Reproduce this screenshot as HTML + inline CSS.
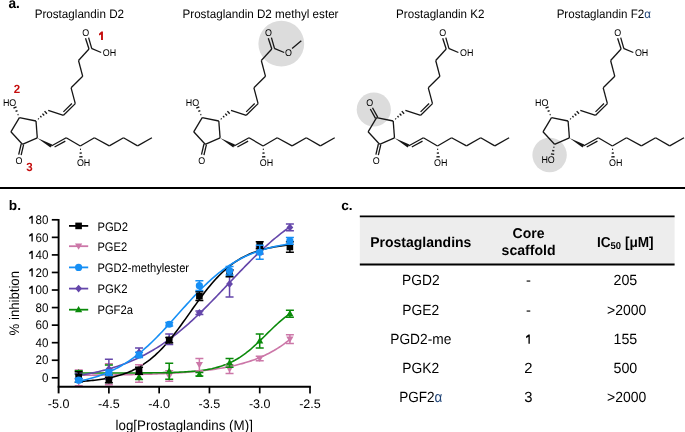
<!DOCTYPE html>
<html><head><meta charset="utf-8"><style>
html,body{margin:0;padding:0;background:#fff;}
svg{display:block;font-family:"Liberation Sans",sans-serif;text-rendering:geometricPrecision;will-change:transform;}
</style></head><body>
<svg width="685" height="432" viewBox="0 0 685 432">

<text x="8.4" y="7.6" font-size="14.6" font-weight="bold" fill="#000" textLength="11.4" lengthAdjust="spacingAndGlyphs">a.</text>
<text x="79.35" y="17.9" font-size="12.2" text-anchor="middle" textLength="89.4" lengthAdjust="spacingAndGlyphs">Prostaglandin D2</text>
<text x="260.5" y="17.9" font-size="12.2" text-anchor="middle" textLength="156" lengthAdjust="spacingAndGlyphs">Prostaglandin D2 methyl ester</text>
<text x="440.3" y="17.9" font-size="12.2" text-anchor="middle" textLength="88.4" lengthAdjust="spacingAndGlyphs">Prostaglandin K2</text>
<text x="603.75" y="17.9" font-size="12.2" text-anchor="middle" textLength="94.2" lengthAdjust="spacingAndGlyphs">Prostaglandin F2<tspan fill="#1e4275">α</tspan></text>
<circle cx="281.3" cy="43.7" r="22.9" fill="#dcdcdc"/>
<circle cx="373.8" cy="109.5" r="17.1" fill="#dcdcdc"/>
<circle cx="549.6" cy="155" r="17.2" fill="#dcdcdc"/>
<g><line x1="19.40" y1="117.70" x2="36.00" y2="121.00" stroke="#151515" stroke-width="1.3"/><line x1="36.00" y1="121.00" x2="37.30" y2="137.90" stroke="#151515" stroke-width="1.3"/><line x1="37.30" y1="137.90" x2="22.40" y2="144.30" stroke="#151515" stroke-width="1.3"/><line x1="22.40" y1="144.30" x2="10.90" y2="131.80" stroke="#151515" stroke-width="1.3"/><line x1="10.90" y1="131.80" x2="19.40" y2="117.70" stroke="#151515" stroke-width="1.3"/><line x1="38.77" y1="119.24" x2="38.11" y2="118.48" stroke="#151515" stroke-width="1.35"/><line x1="41.46" y1="117.38" x2="40.30" y2="116.06" stroke="#151515" stroke-width="1.35"/><line x1="44.19" y1="115.57" x2="42.45" y2="113.59" stroke="#151515" stroke-width="1.35"/><line x1="46.92" y1="113.76" x2="44.60" y2="111.12" stroke="#151515" stroke-width="1.35"/><line x1="48.20" y1="110.30" x2="63.50" y2="115.30" stroke="#151515" stroke-width="1.3"/><line x1="63.50" y1="115.30" x2="75.30" y2="103.60" stroke="#151515" stroke-width="1.3"/><line x1="63.39" y1="111.89" x2="71.89" y2="103.46" stroke="#151515" stroke-width="1.3"/><line x1="75.30" y1="103.60" x2="71.10" y2="87.80" stroke="#151515" stroke-width="1.3"/><line x1="71.10" y1="87.80" x2="82.70" y2="76.30" stroke="#151515" stroke-width="1.3"/><line x1="82.70" y1="76.30" x2="78.50" y2="60.50" stroke="#151515" stroke-width="1.3"/><line x1="78.50" y1="60.50" x2="89.00" y2="49.00" stroke="#151515" stroke-width="1.3"/><polygon points="37.30,137.90 50.45,147.47 52.15,144.53" fill="#151515"/><line x1="51.30" y1="146.00" x2="66.20" y2="137.80" stroke="#151515" stroke-width="1.3"/><line x1="54.59" y1="147.04" x2="65.32" y2="141.14" stroke="#151515" stroke-width="1.3"/><line x1="66.20" y1="137.80" x2="80.30" y2="146.00" stroke="#151515" stroke-width="1.3"/><line x1="80.30" y1="146.00" x2="94.40" y2="137.80" stroke="#151515" stroke-width="1.3"/><line x1="94.40" y1="137.80" x2="109.30" y2="145.90" stroke="#151515" stroke-width="1.3"/><line x1="109.30" y1="145.90" x2="123.50" y2="137.80" stroke="#151515" stroke-width="1.3"/><line x1="123.50" y1="137.80" x2="137.60" y2="145.90" stroke="#151515" stroke-width="1.3"/><line x1="137.60" y1="145.90" x2="151.90" y2="137.80" stroke="#151515" stroke-width="1.3"/><line x1="79.96" y1="149.33" x2="80.97" y2="149.28" stroke="#151515" stroke-width="1.35"/><line x1="79.58" y1="153.13" x2="81.74" y2="153.03" stroke="#151515" stroke-width="1.35"/><line x1="79.20" y1="156.94" x2="82.51" y2="156.77" stroke="#151515" stroke-width="1.35"/><text transform="translate(83.60,166.07) scale(0.2275,0.25)" font-size="39.20" font-weight="normal" fill="#000" text-anchor="middle">OH</text><line x1="18.52" y1="114.39" x2="17.59" y2="114.79" stroke="#151515" stroke-width="1.35"/><line x1="17.51" y1="110.61" x2="15.53" y2="111.47" stroke="#151515" stroke-width="1.35"/><line x1="16.50" y1="106.83" x2="13.46" y2="108.15" stroke="#151515" stroke-width="1.35"/><text transform="translate(9.60,105.97) scale(0.2275,0.25)" font-size="39.20" font-weight="normal" fill="#000" text-anchor="middle">HO</text><line x1="21.18" y1="144.01" x2="18.68" y2="154.61" stroke="#151515" stroke-width="1.3"/><line x1="23.62" y1="144.59" x2="21.12" y2="155.19" stroke="#151515" stroke-width="1.3"/><text transform="translate(19.00,163.77) scale(0.2275,0.25)" font-size="39.20" font-weight="normal" fill="#000" text-anchor="middle">O</text><line x1="89.00" y1="49.00" x2="85.50" y2="38.20" stroke="#151515" stroke-width="1.3"/><line x1="91.70" y1="48.40" x2="88.60" y2="37.60" stroke="#151515" stroke-width="1.3"/><line x1="91.40" y1="48.40" x2="101.20" y2="52.50" stroke="#151515" stroke-width="1.3"/><text transform="translate(85.60,35.87) scale(0.2275,0.25)" font-size="39.20" font-weight="normal" fill="#000" text-anchor="middle">O</text><text transform="translate(109.50,56.07) scale(0.2275,0.25)" font-size="39.20" font-weight="normal" fill="#000" text-anchor="middle">OH</text><polygon points="102.95,31.6 102.95,39.9 101.05,39.9 101.05,34.5 99.0,35.5 99.0,33.8 101.4,31.6" fill="#c50d0d"/><text transform="translate(16.90,93.36) scale(0.2450,0.25)" font-size="47.20" font-weight="bold" fill="#c50d0d" text-anchor="middle">2</text><text transform="translate(29.50,170.56) scale(0.2450,0.25)" font-size="47.20" font-weight="bold" fill="#c50d0d" text-anchor="middle">3</text></g>
<g transform="translate(182.8,0)"><line x1="19.40" y1="117.70" x2="36.00" y2="121.00" stroke="#151515" stroke-width="1.3"/><line x1="36.00" y1="121.00" x2="37.30" y2="137.90" stroke="#151515" stroke-width="1.3"/><line x1="37.30" y1="137.90" x2="22.40" y2="144.30" stroke="#151515" stroke-width="1.3"/><line x1="22.40" y1="144.30" x2="10.90" y2="131.80" stroke="#151515" stroke-width="1.3"/><line x1="10.90" y1="131.80" x2="19.40" y2="117.70" stroke="#151515" stroke-width="1.3"/><line x1="38.77" y1="119.24" x2="38.11" y2="118.48" stroke="#151515" stroke-width="1.35"/><line x1="41.46" y1="117.38" x2="40.30" y2="116.06" stroke="#151515" stroke-width="1.35"/><line x1="44.19" y1="115.57" x2="42.45" y2="113.59" stroke="#151515" stroke-width="1.35"/><line x1="46.92" y1="113.76" x2="44.60" y2="111.12" stroke="#151515" stroke-width="1.35"/><line x1="48.20" y1="110.30" x2="63.50" y2="115.30" stroke="#151515" stroke-width="1.3"/><line x1="63.50" y1="115.30" x2="75.30" y2="103.60" stroke="#151515" stroke-width="1.3"/><line x1="63.39" y1="111.89" x2="71.89" y2="103.46" stroke="#151515" stroke-width="1.3"/><line x1="75.30" y1="103.60" x2="71.10" y2="87.80" stroke="#151515" stroke-width="1.3"/><line x1="71.10" y1="87.80" x2="82.70" y2="76.30" stroke="#151515" stroke-width="1.3"/><line x1="82.70" y1="76.30" x2="78.50" y2="60.50" stroke="#151515" stroke-width="1.3"/><line x1="78.50" y1="60.50" x2="89.00" y2="49.00" stroke="#151515" stroke-width="1.3"/><polygon points="37.30,137.90 50.45,147.47 52.15,144.53" fill="#151515"/><line x1="51.30" y1="146.00" x2="66.20" y2="137.80" stroke="#151515" stroke-width="1.3"/><line x1="54.59" y1="147.04" x2="65.32" y2="141.14" stroke="#151515" stroke-width="1.3"/><line x1="66.20" y1="137.80" x2="80.30" y2="146.00" stroke="#151515" stroke-width="1.3"/><line x1="80.30" y1="146.00" x2="94.40" y2="137.80" stroke="#151515" stroke-width="1.3"/><line x1="94.40" y1="137.80" x2="109.30" y2="145.90" stroke="#151515" stroke-width="1.3"/><line x1="109.30" y1="145.90" x2="123.50" y2="137.80" stroke="#151515" stroke-width="1.3"/><line x1="123.50" y1="137.80" x2="137.60" y2="145.90" stroke="#151515" stroke-width="1.3"/><line x1="137.60" y1="145.90" x2="151.90" y2="137.80" stroke="#151515" stroke-width="1.3"/><line x1="79.96" y1="149.33" x2="80.97" y2="149.28" stroke="#151515" stroke-width="1.35"/><line x1="79.58" y1="153.13" x2="81.74" y2="153.03" stroke="#151515" stroke-width="1.35"/><line x1="79.20" y1="156.94" x2="82.51" y2="156.77" stroke="#151515" stroke-width="1.35"/><text transform="translate(83.60,166.07) scale(0.2275,0.25)" font-size="39.20" font-weight="normal" fill="#000" text-anchor="middle">OH</text><line x1="18.52" y1="114.39" x2="17.59" y2="114.79" stroke="#151515" stroke-width="1.35"/><line x1="17.51" y1="110.61" x2="15.53" y2="111.47" stroke="#151515" stroke-width="1.35"/><line x1="16.50" y1="106.83" x2="13.46" y2="108.15" stroke="#151515" stroke-width="1.35"/><text transform="translate(9.60,105.97) scale(0.2275,0.25)" font-size="39.20" font-weight="normal" fill="#000" text-anchor="middle">HO</text><line x1="21.18" y1="144.01" x2="18.68" y2="154.61" stroke="#151515" stroke-width="1.3"/><line x1="23.62" y1="144.59" x2="21.12" y2="155.19" stroke="#151515" stroke-width="1.3"/><text transform="translate(19.00,163.77) scale(0.2275,0.25)" font-size="39.20" font-weight="normal" fill="#000" text-anchor="middle">O</text><line x1="89.00" y1="49.00" x2="85.50" y2="38.20" stroke="#151515" stroke-width="1.3"/><line x1="91.70" y1="48.40" x2="88.60" y2="37.60" stroke="#151515" stroke-width="1.3"/><line x1="91.40" y1="48.40" x2="101.40" y2="52.50" stroke="#151515" stroke-width="1.3"/><text transform="translate(85.60,35.87) scale(0.2275,0.25)" font-size="39.20" font-weight="normal" fill="#000" text-anchor="middle">O</text><text transform="translate(105.70,55.77) scale(0.2275,0.25)" font-size="39.20" font-weight="normal" fill="#000" text-anchor="middle">O</text><line x1="109.30" y1="48.60" x2="118.50" y2="40.70" stroke="#151515" stroke-width="1.3"/></g>
<g transform="translate(357.2,0)"><line x1="19.40" y1="117.70" x2="36.00" y2="121.00" stroke="#151515" stroke-width="1.3"/><line x1="36.00" y1="121.00" x2="37.30" y2="137.90" stroke="#151515" stroke-width="1.3"/><line x1="37.30" y1="137.90" x2="22.40" y2="144.30" stroke="#151515" stroke-width="1.3"/><line x1="22.40" y1="144.30" x2="10.90" y2="131.80" stroke="#151515" stroke-width="1.3"/><line x1="10.90" y1="131.80" x2="19.40" y2="117.70" stroke="#151515" stroke-width="1.3"/><line x1="38.77" y1="119.24" x2="38.11" y2="118.48" stroke="#151515" stroke-width="1.35"/><line x1="41.46" y1="117.38" x2="40.30" y2="116.06" stroke="#151515" stroke-width="1.35"/><line x1="44.19" y1="115.57" x2="42.45" y2="113.59" stroke="#151515" stroke-width="1.35"/><line x1="46.92" y1="113.76" x2="44.60" y2="111.12" stroke="#151515" stroke-width="1.35"/><line x1="48.20" y1="110.30" x2="63.50" y2="115.30" stroke="#151515" stroke-width="1.3"/><line x1="63.50" y1="115.30" x2="75.30" y2="103.60" stroke="#151515" stroke-width="1.3"/><line x1="63.39" y1="111.89" x2="71.89" y2="103.46" stroke="#151515" stroke-width="1.3"/><line x1="75.30" y1="103.60" x2="71.10" y2="87.80" stroke="#151515" stroke-width="1.3"/><line x1="71.10" y1="87.80" x2="82.70" y2="76.30" stroke="#151515" stroke-width="1.3"/><line x1="82.70" y1="76.30" x2="78.50" y2="60.50" stroke="#151515" stroke-width="1.3"/><line x1="78.50" y1="60.50" x2="89.00" y2="49.00" stroke="#151515" stroke-width="1.3"/><polygon points="37.30,137.90 50.45,147.47 52.15,144.53" fill="#151515"/><line x1="51.30" y1="146.00" x2="66.20" y2="137.80" stroke="#151515" stroke-width="1.3"/><line x1="54.59" y1="147.04" x2="65.32" y2="141.14" stroke="#151515" stroke-width="1.3"/><line x1="66.20" y1="137.80" x2="80.30" y2="146.00" stroke="#151515" stroke-width="1.3"/><line x1="80.30" y1="146.00" x2="94.40" y2="137.80" stroke="#151515" stroke-width="1.3"/><line x1="94.40" y1="137.80" x2="109.30" y2="145.90" stroke="#151515" stroke-width="1.3"/><line x1="109.30" y1="145.90" x2="123.50" y2="137.80" stroke="#151515" stroke-width="1.3"/><line x1="123.50" y1="137.80" x2="137.60" y2="145.90" stroke="#151515" stroke-width="1.3"/><line x1="137.60" y1="145.90" x2="151.90" y2="137.80" stroke="#151515" stroke-width="1.3"/><line x1="79.96" y1="149.33" x2="80.97" y2="149.28" stroke="#151515" stroke-width="1.35"/><line x1="79.58" y1="153.13" x2="81.74" y2="153.03" stroke="#151515" stroke-width="1.35"/><line x1="79.20" y1="156.94" x2="82.51" y2="156.77" stroke="#151515" stroke-width="1.35"/><text transform="translate(83.60,166.07) scale(0.2275,0.25)" font-size="39.20" font-weight="normal" fill="#000" text-anchor="middle">OH</text><line x1="20.49" y1="117.09" x2="15.29" y2="107.79" stroke="#151515" stroke-width="1.3"/><line x1="18.31" y1="118.31" x2="13.11" y2="109.01" stroke="#151515" stroke-width="1.3"/><text transform="translate(12.60,106.17) scale(0.2275,0.25)" font-size="39.20" font-weight="normal" fill="#000" text-anchor="middle">O</text><line x1="21.18" y1="144.01" x2="18.68" y2="154.61" stroke="#151515" stroke-width="1.3"/><line x1="23.62" y1="144.59" x2="21.12" y2="155.19" stroke="#151515" stroke-width="1.3"/><text transform="translate(19.00,163.77) scale(0.2275,0.25)" font-size="39.20" font-weight="normal" fill="#000" text-anchor="middle">O</text><line x1="89.00" y1="49.00" x2="85.50" y2="38.20" stroke="#151515" stroke-width="1.3"/><line x1="91.70" y1="48.40" x2="88.60" y2="37.60" stroke="#151515" stroke-width="1.3"/><line x1="91.40" y1="48.40" x2="101.20" y2="52.50" stroke="#151515" stroke-width="1.3"/><text transform="translate(85.60,35.87) scale(0.2275,0.25)" font-size="39.20" font-weight="normal" fill="#000" text-anchor="middle">O</text><text transform="translate(109.50,56.07) scale(0.2275,0.25)" font-size="39.20" font-weight="normal" fill="#000" text-anchor="middle">OH</text></g>
<g transform="translate(532.1,0)"><line x1="19.40" y1="117.70" x2="36.00" y2="121.00" stroke="#151515" stroke-width="1.3"/><line x1="36.00" y1="121.00" x2="37.30" y2="137.90" stroke="#151515" stroke-width="1.3"/><line x1="37.30" y1="137.90" x2="22.40" y2="144.30" stroke="#151515" stroke-width="1.3"/><line x1="22.40" y1="144.30" x2="10.90" y2="131.80" stroke="#151515" stroke-width="1.3"/><line x1="10.90" y1="131.80" x2="19.40" y2="117.70" stroke="#151515" stroke-width="1.3"/><line x1="38.77" y1="119.24" x2="38.11" y2="118.48" stroke="#151515" stroke-width="1.35"/><line x1="41.46" y1="117.38" x2="40.30" y2="116.06" stroke="#151515" stroke-width="1.35"/><line x1="44.19" y1="115.57" x2="42.45" y2="113.59" stroke="#151515" stroke-width="1.35"/><line x1="46.92" y1="113.76" x2="44.60" y2="111.12" stroke="#151515" stroke-width="1.35"/><line x1="48.20" y1="110.30" x2="63.50" y2="115.30" stroke="#151515" stroke-width="1.3"/><line x1="63.50" y1="115.30" x2="75.30" y2="103.60" stroke="#151515" stroke-width="1.3"/><line x1="63.39" y1="111.89" x2="71.89" y2="103.46" stroke="#151515" stroke-width="1.3"/><line x1="75.30" y1="103.60" x2="71.10" y2="87.80" stroke="#151515" stroke-width="1.3"/><line x1="71.10" y1="87.80" x2="82.70" y2="76.30" stroke="#151515" stroke-width="1.3"/><line x1="82.70" y1="76.30" x2="78.50" y2="60.50" stroke="#151515" stroke-width="1.3"/><line x1="78.50" y1="60.50" x2="89.00" y2="49.00" stroke="#151515" stroke-width="1.3"/><polygon points="37.30,137.90 50.45,147.47 52.15,144.53" fill="#151515"/><line x1="51.30" y1="146.00" x2="66.20" y2="137.80" stroke="#151515" stroke-width="1.3"/><line x1="54.59" y1="147.04" x2="65.32" y2="141.14" stroke="#151515" stroke-width="1.3"/><line x1="66.20" y1="137.80" x2="80.30" y2="146.00" stroke="#151515" stroke-width="1.3"/><line x1="80.30" y1="146.00" x2="94.40" y2="137.80" stroke="#151515" stroke-width="1.3"/><line x1="94.40" y1="137.80" x2="109.30" y2="145.90" stroke="#151515" stroke-width="1.3"/><line x1="109.30" y1="145.90" x2="123.50" y2="137.80" stroke="#151515" stroke-width="1.3"/><line x1="123.50" y1="137.80" x2="137.60" y2="145.90" stroke="#151515" stroke-width="1.3"/><line x1="137.60" y1="145.90" x2="151.90" y2="137.80" stroke="#151515" stroke-width="1.3"/><line x1="79.96" y1="149.33" x2="80.97" y2="149.28" stroke="#151515" stroke-width="1.35"/><line x1="79.58" y1="153.13" x2="81.74" y2="153.03" stroke="#151515" stroke-width="1.35"/><line x1="79.20" y1="156.94" x2="82.51" y2="156.77" stroke="#151515" stroke-width="1.35"/><text transform="translate(83.60,166.07) scale(0.2275,0.25)" font-size="39.20" font-weight="normal" fill="#000" text-anchor="middle">OH</text><line x1="18.52" y1="114.39" x2="17.59" y2="114.79" stroke="#151515" stroke-width="1.35"/><line x1="17.51" y1="110.61" x2="15.53" y2="111.47" stroke="#151515" stroke-width="1.35"/><line x1="16.50" y1="106.83" x2="13.46" y2="108.15" stroke="#151515" stroke-width="1.35"/><text transform="translate(9.60,105.97) scale(0.2275,0.25)" font-size="39.20" font-weight="normal" fill="#000" text-anchor="middle">HO</text><line x1="21.32" y1="147.20" x2="22.31" y2="147.39" stroke="#151515" stroke-width="1.35"/><line x1="20.08" y1="150.51" x2="22.20" y2="150.93" stroke="#151515" stroke-width="1.35"/><line x1="18.84" y1="153.83" x2="22.09" y2="154.46" stroke="#151515" stroke-width="1.35"/><text transform="translate(16.00,163.27) scale(0.2275,0.25)" font-size="39.20" font-weight="normal" fill="#000" text-anchor="middle">HO</text><line x1="89.00" y1="49.00" x2="85.50" y2="38.20" stroke="#151515" stroke-width="1.3"/><line x1="91.70" y1="48.40" x2="88.60" y2="37.60" stroke="#151515" stroke-width="1.3"/><line x1="91.40" y1="48.40" x2="101.20" y2="52.50" stroke="#151515" stroke-width="1.3"/><text transform="translate(85.60,35.87) scale(0.2275,0.25)" font-size="39.20" font-weight="normal" fill="#000" text-anchor="middle">O</text><text transform="translate(109.50,56.07) scale(0.2275,0.25)" font-size="39.20" font-weight="normal" fill="#000" text-anchor="middle">OH</text></g>
<rect x="0" y="187" width="685" height="2" fill="#000"/>
<polyline points="78.71,375.27 80.49,375.26 82.26,375.25 84.04,375.24 85.81,375.22 87.58,375.21 89.36,375.20 91.13,375.18 92.91,375.17 94.68,375.15 96.46,375.13 98.23,375.12 100.01,375.10 101.78,375.08 103.56,375.06 105.33,375.04 107.11,375.02 108.88,375.00 110.65,374.97 112.43,374.95 114.20,374.93 115.98,374.90 117.75,374.87 119.53,374.84 121.30,374.81 123.08,374.78 124.85,374.75 126.63,374.72 128.40,374.68 130.18,374.65 131.95,374.61 133.72,374.57 135.50,374.53 137.27,374.49 139.05,374.44 140.82,374.40 142.60,374.35 144.37,374.30 146.15,374.25 147.92,374.19 149.70,374.14 151.47,374.08 153.24,374.02 155.02,373.95 156.79,373.88 158.57,373.81 160.34,373.74 162.12,373.67 163.89,373.59 165.67,373.51 167.44,373.42 169.22,373.33 170.99,373.24 172.77,373.14 174.54,373.04 176.31,372.94 178.09,372.83 179.86,372.71 181.64,372.59 183.41,372.47 185.19,372.34 186.96,372.21 188.74,372.07 190.51,371.92 192.29,371.77 194.06,371.61 195.83,371.44 197.61,371.27 199.38,371.09 201.16,370.91 202.93,370.71 204.71,370.51 206.48,370.30 208.26,370.08 210.03,369.85 211.81,369.61 213.58,369.36 215.36,369.10 217.13,368.83 218.90,368.55 220.68,368.26 222.45,367.95 224.23,367.63 226.00,367.30 227.78,366.95 229.55,366.59 231.33,366.22 233.10,365.82 234.88,365.42 236.65,364.99 238.42,364.55 240.20,364.09 241.97,363.61 243.75,363.11 245.52,362.58 247.30,362.04 249.07,361.47 250.85,360.88 252.62,360.27 254.40,359.63 256.17,358.96 257.95,358.26 259.72,357.54 261.49,356.78 263.27,355.99 265.04,355.17 266.82,354.32 268.59,353.43 270.37,352.50 272.14,351.53 273.92,350.53 275.69,349.48 277.47,348.38 279.24,347.24 281.02,346.05 282.79,344.82 284.56,343.53 286.34,342.18 288.11,340.78 289.89,339.33" fill="none" stroke="#cc77a8" stroke-width="1.6"/>
<polyline points="78.71,373.03 80.49,373.03 82.26,373.03 84.04,373.03 85.81,373.03 87.58,373.03 89.36,373.03 91.13,373.03 92.91,373.03 94.68,373.03 96.46,373.03 98.23,373.03 100.01,373.02 101.78,373.02 103.56,373.02 105.33,373.02 107.11,373.02 108.88,373.02 110.65,373.01 112.43,373.01 114.20,373.01 115.98,373.01 117.75,373.00 119.53,373.00 121.30,373.00 123.08,372.99 124.85,372.99 126.63,372.98 128.40,372.98 130.18,372.97 131.95,372.96 133.72,372.96 135.50,372.95 137.27,372.94 139.05,372.93 140.82,372.92 142.60,372.91 144.37,372.90 146.15,372.88 147.92,372.87 149.70,372.85 151.47,372.83 153.24,372.81 155.02,372.79 156.79,372.77 158.57,372.74 160.34,372.72 162.12,372.68 163.89,372.65 165.67,372.61 167.44,372.57 169.22,372.53 170.99,372.48 172.77,372.43 174.54,372.37 176.31,372.30 178.09,372.23 179.86,372.16 181.64,372.07 183.41,371.98 185.19,371.88 186.96,371.77 188.74,371.66 190.51,371.52 192.29,371.38 194.06,371.23 195.83,371.06 197.61,370.87 199.38,370.67 201.16,370.45 202.93,370.21 204.71,369.95 206.48,369.67 208.26,369.36 210.03,369.02 211.81,368.66 213.58,368.26 215.36,367.84 217.13,367.37 218.90,366.87 220.68,366.33 222.45,365.75 224.23,365.12 226.00,364.45 227.78,363.72 229.55,362.94 231.33,362.11 233.10,361.22 234.88,360.28 236.65,359.27 238.42,358.20 240.20,357.07 241.97,355.88 243.75,354.63 245.52,353.32 247.30,351.94 249.07,350.51 250.85,349.03 252.62,347.49 254.40,345.90 256.17,344.28 257.95,342.61 259.72,340.91 261.49,339.19 263.27,337.45 265.04,335.70 266.82,333.94 268.59,332.19 270.37,330.45 272.14,328.73 273.92,327.03 275.69,325.36 277.47,323.73 279.24,322.14 281.02,320.60 282.79,319.11 284.56,317.68 286.34,316.30 288.11,314.98 289.89,313.73" fill="none" stroke="#0a8a0a" stroke-width="1.6"/>
<polyline points="78.71,375.51 80.49,375.22 82.26,374.92 84.04,374.61 85.81,374.28 87.58,373.95 89.36,373.61 91.13,373.25 92.91,372.88 94.68,372.50 96.46,372.10 98.23,371.70 100.01,371.27 101.78,370.84 103.56,370.38 105.33,369.92 107.11,369.44 108.88,368.94 110.65,368.42 112.43,367.89 114.20,367.34 115.98,366.78 117.75,366.19 119.53,365.59 121.30,364.97 123.08,364.32 124.85,363.66 126.63,362.98 128.40,362.28 130.18,361.55 131.95,360.80 133.72,360.04 135.50,359.24 137.27,358.43 139.05,357.59 140.82,356.73 142.60,355.84 144.37,354.93 146.15,354.00 147.92,353.04 149.70,352.05 151.47,351.04 153.24,350.00 155.02,348.93 156.79,347.84 158.57,346.72 160.34,345.58 162.12,344.41 163.89,343.20 165.67,341.98 167.44,340.72 169.22,339.44 170.99,338.13 172.77,336.79 174.54,335.43 176.31,334.03 178.09,332.62 179.86,331.17 181.64,329.70 183.41,328.20 185.19,326.68 186.96,325.13 188.74,323.56 190.51,321.97 192.29,320.35 194.06,318.71 195.83,317.04 197.61,315.36 199.38,313.66 201.16,311.93 202.93,310.19 204.71,308.43 206.48,306.66 208.26,304.87 210.03,303.06 211.81,301.24 213.58,299.41 215.36,297.57 217.13,295.72 218.90,293.86 220.68,292.00 222.45,290.13 224.23,288.25 226.00,286.38 227.78,284.50 229.55,282.62 231.33,280.74 233.10,278.87 234.88,277.00 236.65,275.13 238.42,273.27 240.20,271.42 241.97,269.58 243.75,267.74 245.52,265.92 247.30,264.12 249.07,262.32 250.85,260.54 252.62,258.78 254.40,257.04 256.17,255.31 257.95,253.60 259.72,251.91 261.49,250.24 263.27,248.60 265.04,246.98 266.82,245.37 268.59,243.80 270.37,242.25 272.14,240.72 273.92,239.22 275.69,237.74 277.47,236.29 279.24,234.86 281.02,233.47 282.79,232.10 284.56,230.75 286.34,229.44 288.11,228.15 289.89,226.89" fill="none" stroke="#6446aa" stroke-width="1.6"/>
<polyline points="78.71,381.59 80.49,381.47 82.26,381.35 84.04,381.21 85.81,381.07 87.58,380.91 89.36,380.75 91.13,380.57 92.91,380.38 94.68,380.18 96.46,379.96 98.23,379.73 100.01,379.48 101.78,379.22 103.56,378.93 105.33,378.63 107.11,378.30 108.88,377.95 110.65,377.58 112.43,377.19 114.20,376.76 115.98,376.31 117.75,375.83 119.53,375.32 121.30,374.77 123.08,374.19 124.85,373.57 126.63,372.91 128.40,372.21 130.18,371.46 131.95,370.67 133.72,369.83 135.50,368.95 137.27,368.01 139.05,367.01 140.82,365.96 142.60,364.86 144.37,363.69 146.15,362.46 147.92,361.17 149.70,359.81 151.47,358.38 153.24,356.89 155.02,355.33 156.79,353.70 158.57,352.01 160.34,350.24 162.12,348.41 163.89,346.50 165.67,344.54 167.44,342.50 169.22,340.41 170.99,338.26 172.77,336.05 174.54,333.78 176.31,331.47 178.09,329.12 179.86,326.72 181.64,324.29 183.41,321.83 185.19,319.35 186.96,316.86 188.74,314.35 190.51,311.84 192.29,309.33 194.06,306.83 195.83,304.35 197.61,301.88 199.38,299.45 201.16,297.04 202.93,294.68 204.71,292.35 206.48,290.08 208.26,287.86 210.03,285.69 211.81,283.58 213.58,281.53 215.36,279.55 217.13,277.63 218.90,275.78 220.68,273.99 222.45,272.28 224.23,270.64 226.00,269.06 227.78,267.55 229.55,266.11 231.33,264.74 233.10,263.43 234.88,262.18 236.65,261.00 238.42,259.88 240.20,258.81 241.97,257.81 243.75,256.85 245.52,255.95 247.30,255.10 249.07,254.30 250.85,253.55 252.62,252.84 254.40,252.17 256.17,251.54 257.95,250.95 259.72,250.39 261.49,249.87 263.27,249.38 265.04,248.92 266.82,248.49 268.59,248.09 270.37,247.71 272.14,247.36 273.92,247.03 275.69,246.72 277.47,246.43 279.24,246.16 281.02,245.90 282.79,245.67 284.56,245.45 286.34,245.24 288.11,245.05 289.89,244.87" fill="none" stroke="#000000" stroke-width="1.6"/>
<polyline points="78.71,381.29 80.49,380.92 82.26,380.54 84.04,380.13 85.81,379.71 87.58,379.27 89.36,378.80 91.13,378.31 92.91,377.80 94.68,377.26 96.46,376.70 98.23,376.12 100.01,375.50 101.78,374.86 103.56,374.19 105.33,373.50 107.11,372.77 108.88,372.00 110.65,371.21 112.43,370.38 114.20,369.52 115.98,368.62 117.75,367.69 119.53,366.72 121.30,365.71 123.08,364.67 124.85,363.58 126.63,362.46 128.40,361.30 130.18,360.09 131.95,358.85 133.72,357.56 135.50,356.23 137.27,354.86 139.05,353.45 140.82,352.00 142.60,350.51 144.37,348.98 146.15,347.41 147.92,345.81 149.70,344.16 151.47,342.48 153.24,340.76 155.02,339.01 156.79,337.23 158.57,335.41 160.34,333.57 162.12,331.70 163.89,329.81 165.67,327.89 167.44,325.96 169.22,324.01 170.99,322.04 172.77,320.06 174.54,318.07 176.31,316.08 178.09,314.08 179.86,312.08 181.64,310.08 183.41,308.09 185.19,306.11 186.96,304.13 188.74,302.17 190.51,300.23 192.29,298.30 194.06,296.40 195.83,294.52 197.61,292.66 199.38,290.83 201.16,289.03 202.93,287.27 204.71,285.53 206.48,283.83 208.26,282.17 210.03,280.54 211.81,278.95 213.58,277.40 215.36,275.89 217.13,274.41 218.90,272.98 220.68,271.59 222.45,270.25 224.23,268.94 226.00,267.67 227.78,266.45 229.55,265.26 231.33,264.12 233.10,263.01 234.88,261.95 236.65,260.92 238.42,259.93 240.20,258.98 241.97,258.06 243.75,257.18 245.52,256.34 247.30,255.53 249.07,254.75 250.85,254.00 252.62,253.29 254.40,252.60 256.17,251.95 257.95,251.32 259.72,250.72 261.49,250.15 263.27,249.60 265.04,249.07 266.82,248.57 268.59,248.10 270.37,247.64 272.14,247.21 273.92,246.79 275.69,246.40 277.47,246.02 279.24,245.66 281.02,245.32 282.79,244.99 284.56,244.68 286.34,244.39 288.11,244.11 289.89,243.84" fill="none" stroke="#168ff5" stroke-width="1.6"/>
<path d="M74.71,369.90H82.71M78.71,369.90V385.70M74.71,385.70H82.71" stroke="#cc77a8" stroke-width="1.5" fill="none"/>
<polygon points="78.71,381.40 82.31,375.20 75.11,375.20" fill="#cc77a8"/>
<path d="M104.88,363.76H112.88M108.88,363.76V384.82M104.88,384.82H112.88" stroke="#cc77a8" stroke-width="1.5" fill="none"/>
<polygon points="108.88,377.89 112.48,371.69 105.28,371.69" fill="#cc77a8"/>
<path d="M135.05,364.63H143.05M139.05,364.63V382.19M135.05,382.19H143.05" stroke="#cc77a8" stroke-width="1.5" fill="none"/>
<polygon points="139.05,377.01 142.65,370.81 135.45,370.81" fill="#cc77a8"/>
<path d="M165.22,370.78H173.22M169.22,370.78V381.31M165.22,381.31H173.22" stroke="#cc77a8" stroke-width="1.5" fill="none"/>
<polygon points="169.22,379.64 172.82,373.44 165.62,373.44" fill="#cc77a8"/>
<path d="M195.38,358.49H203.38M199.38,358.49V370.78M195.38,370.78H203.38" stroke="#cc77a8" stroke-width="1.5" fill="none"/>
<polygon points="199.38,368.23 202.98,362.03 195.78,362.03" fill="#cc77a8"/>
<path d="M225.55,364.63H233.55M229.55,364.63V373.41M225.55,373.41H233.55" stroke="#cc77a8" stroke-width="1.5" fill="none"/>
<polygon points="229.55,372.62 233.15,366.42 225.95,366.42" fill="#cc77a8"/>
<path d="M255.72,356.29H263.72M259.72,356.29V360.68M255.72,360.68H263.72" stroke="#cc77a8" stroke-width="1.5" fill="none"/>
<polygon points="259.72,362.09 263.32,355.89 256.12,355.89" fill="#cc77a8"/>
<path d="M285.89,334.79H293.89M289.89,334.79V343.57M285.89,343.57H293.89" stroke="#cc77a8" stroke-width="1.5" fill="none"/>
<polygon points="289.89,342.78 293.49,336.58 286.29,336.58" fill="#cc77a8"/>
<path d="M74.71,370.78H82.71M78.71,370.78V374.29M74.71,374.29H82.71" stroke="#0a8a0a" stroke-width="1.5" fill="none"/>
<polygon points="78.71,368.93 82.31,375.13 75.11,375.13" fill="#0a8a0a"/>
<path d="M104.88,365.07H112.88M108.88,365.07V374.73M104.88,374.73H112.88" stroke="#0a8a0a" stroke-width="1.5" fill="none"/>
<polygon points="108.88,366.30 112.48,372.50 105.28,372.50" fill="#0a8a0a"/>
<path d="M135.05,374.29H143.05M139.05,374.29V379.56M135.05,379.56H143.05" stroke="#0a8a0a" stroke-width="1.5" fill="none"/>
<polygon points="139.05,373.32 142.65,379.52 135.45,379.52" fill="#0a8a0a"/>
<path d="M165.22,363.14H173.22M169.22,363.14V379.29M165.22,379.29H173.22" stroke="#0a8a0a" stroke-width="1.5" fill="none"/>
<polygon points="169.22,367.62 172.82,373.82 165.62,373.82" fill="#0a8a0a"/>
<path d="M195.38,372.53H203.38M199.38,372.53V376.04M195.38,376.04H203.38" stroke="#0a8a0a" stroke-width="1.5" fill="none"/>
<polygon points="199.38,370.69 202.98,376.89 195.78,376.89" fill="#0a8a0a"/>
<path d="M225.55,358.49H233.55M229.55,358.49V367.27M225.55,367.27H233.55" stroke="#0a8a0a" stroke-width="1.5" fill="none"/>
<polygon points="229.55,359.28 233.15,365.48 225.95,365.48" fill="#0a8a0a"/>
<path d="M255.72,333.91H263.72M259.72,333.91V347.95M255.72,347.95H263.72" stroke="#0a8a0a" stroke-width="1.5" fill="none"/>
<polygon points="259.72,337.33 263.32,343.53 256.12,343.53" fill="#0a8a0a"/>
<path d="M285.89,310.21H293.89M289.89,310.21V317.23M285.89,317.23H293.89" stroke="#0a8a0a" stroke-width="1.5" fill="none"/>
<polygon points="289.89,310.12 293.49,316.32 286.29,316.32" fill="#0a8a0a"/>
<path d="M74.71,373.41H82.71M78.71,373.41V378.68M74.71,378.68H82.71" stroke="#6446aa" stroke-width="1.5" fill="none"/>
<polygon points="78.71,372.14 82.11,376.04 78.71,379.94 75.31,376.04" fill="#6446aa"/>
<path d="M104.88,359.37H112.88M108.88,359.37V378.68M104.88,378.68H112.88" stroke="#6446aa" stroke-width="1.5" fill="none"/>
<polygon points="108.88,365.12 112.28,369.02 108.88,372.92 105.48,369.02" fill="#6446aa"/>
<path d="M135.05,347.95H143.05M139.05,347.95V356.73M135.05,356.73H143.05" stroke="#6446aa" stroke-width="1.5" fill="none"/>
<polygon points="139.05,348.44 142.45,352.34 139.05,356.24 135.65,352.34" fill="#6446aa"/>
<path d="M165.22,333.91H173.22M169.22,333.91V344.44M165.22,344.44H173.22" stroke="#6446aa" stroke-width="1.5" fill="none"/>
<polygon points="169.22,335.28 172.62,339.18 169.22,343.08 165.82,339.18" fill="#6446aa"/>
<path d="M195.38,311.09H203.38M199.38,311.09V314.60M195.38,314.60H203.38" stroke="#6446aa" stroke-width="1.5" fill="none"/>
<polygon points="199.38,308.94 202.78,312.84 199.38,316.74 195.98,312.84" fill="#6446aa"/>
<path d="M225.55,270.71H233.55M229.55,270.71V297.04M225.55,297.04H233.55" stroke="#6446aa" stroke-width="1.5" fill="none"/>
<polygon points="229.55,279.98 232.95,283.88 229.55,287.78 226.15,283.88" fill="#6446aa"/>
<path d="M255.72,247.01H263.72M259.72,247.01V254.03M255.72,254.03H263.72" stroke="#6446aa" stroke-width="1.5" fill="none"/>
<polygon points="259.72,246.62 263.12,250.52 259.72,254.42 256.32,250.52" fill="#6446aa"/>
<path d="M285.89,224.10H293.89M289.89,224.10V230.77M285.89,230.77H293.89" stroke="#6446aa" stroke-width="1.5" fill="none"/>
<polygon points="289.89,223.53 293.29,227.43 289.89,231.33 286.49,227.43" fill="#6446aa"/>
<path d="M74.71,371.66H82.71M78.71,371.66V382.19M74.71,382.19H82.71" stroke="#000000" stroke-width="1.5" fill="none"/>
<rect x="75.41" y="373.62" width="6.6" height="6.6" fill="#000000"/>
<path d="M104.88,377.36H112.88M108.88,377.36V382.63M104.88,382.63H112.88" stroke="#000000" stroke-width="1.5" fill="none"/>
<rect x="105.58" y="376.69" width="6.6" height="6.6" fill="#000000"/>
<path d="M135.05,367.27H143.05M139.05,367.27V374.29M135.05,374.29H143.05" stroke="#000000" stroke-width="1.5" fill="none"/>
<rect x="135.75" y="367.48" width="6.6" height="6.6" fill="#000000"/>
<path d="M165.22,337.42H173.22M169.22,337.42V342.69M165.22,342.69H173.22" stroke="#000000" stroke-width="1.5" fill="none"/>
<rect x="165.92" y="336.75" width="6.6" height="6.6" fill="#000000"/>
<path d="M195.38,291.78H203.38M199.38,291.78V300.55M195.38,300.55H203.38" stroke="#000000" stroke-width="1.5" fill="none"/>
<rect x="196.08" y="292.86" width="6.6" height="6.6" fill="#000000"/>
<path d="M225.55,269.83H233.55M229.55,269.83V276.85M225.55,276.85H233.55" stroke="#000000" stroke-width="1.5" fill="none"/>
<rect x="226.25" y="270.04" width="6.6" height="6.6" fill="#000000"/>
<path d="M255.72,241.74H263.72M259.72,241.74V248.76M255.72,248.76H263.72" stroke="#000000" stroke-width="1.5" fill="none"/>
<rect x="256.42" y="241.95" width="6.6" height="6.6" fill="#000000"/>
<path d="M285.89,241.74H293.89M289.89,241.74V252.27M285.89,252.27H293.89" stroke="#000000" stroke-width="1.5" fill="none"/>
<rect x="286.59" y="243.71" width="6.6" height="6.6" fill="#000000"/>
<path d="M74.71,378.41H82.71M78.71,378.41V381.93M74.71,381.93H82.71" stroke="#168ff5" stroke-width="1.5" fill="none"/>
<circle cx="78.71" cy="380.17" r="3.6" fill="#168ff5"/>
<path d="M104.88,369.90H112.88M108.88,369.90V375.17M104.88,375.17H112.88" stroke="#168ff5" stroke-width="1.5" fill="none"/>
<circle cx="108.88" cy="372.53" r="3.6" fill="#168ff5"/>
<path d="M135.05,352.34H143.05M139.05,352.34V357.61M135.05,357.61H143.05" stroke="#168ff5" stroke-width="1.5" fill="none"/>
<circle cx="139.05" cy="354.98" r="3.6" fill="#168ff5"/>
<path d="M165.22,322.50H173.22M169.22,322.50V326.01M165.22,326.01H173.22" stroke="#168ff5" stroke-width="1.5" fill="none"/>
<circle cx="169.22" cy="324.25" r="3.6" fill="#168ff5"/>
<path d="M195.38,280.80H203.38M199.38,280.80V290.46M195.38,290.46H203.38" stroke="#168ff5" stroke-width="1.5" fill="none"/>
<circle cx="199.38" cy="285.63" r="3.6" fill="#168ff5"/>
<path d="M225.55,266.49H233.55M229.55,266.49V274.92M225.55,274.92H233.55" stroke="#168ff5" stroke-width="1.5" fill="none"/>
<circle cx="229.55" cy="270.71" r="3.6" fill="#168ff5"/>
<path d="M255.72,245.25H263.72M259.72,245.25V259.30M255.72,259.30H263.72" stroke="#168ff5" stroke-width="1.5" fill="none"/>
<circle cx="259.72" cy="252.27" r="3.6" fill="#168ff5"/>
<path d="M285.89,237.53H293.89M289.89,237.53V244.20M285.89,244.20H293.89" stroke="#168ff5" stroke-width="1.5" fill="none"/>
<circle cx="289.89" cy="240.86" r="3.6" fill="#168ff5"/>
<path d="M58.6,219.00V393.4" stroke="#000" stroke-width="1.9" fill="none"/>
<path d="M57.7,386.7H310.90" stroke="#000" stroke-width="1.9" fill="none"/>
<path d="M51.8,377.80H58.6" stroke="#000" stroke-width="1.7"/>
<text x="48.4" y="382.05" font-size="12.4" text-anchor="end" fill="#000" textLength="6.45" lengthAdjust="spacingAndGlyphs">0</text>
<path d="M51.8,360.24H58.6" stroke="#000" stroke-width="1.7"/>
<text x="48.4" y="364.49" font-size="12.4" text-anchor="end" fill="#000" textLength="12.90" lengthAdjust="spacingAndGlyphs">20</text>
<path d="M51.8,342.69H58.6" stroke="#000" stroke-width="1.7"/>
<text x="48.4" y="346.94" font-size="12.4" text-anchor="end" fill="#000" textLength="12.90" lengthAdjust="spacingAndGlyphs">40</text>
<path d="M51.8,325.13H58.6" stroke="#000" stroke-width="1.7"/>
<text x="48.4" y="329.38" font-size="12.4" text-anchor="end" fill="#000" textLength="12.90" lengthAdjust="spacingAndGlyphs">60</text>
<path d="M51.8,307.58H58.6" stroke="#000" stroke-width="1.7"/>
<text x="48.4" y="311.83" font-size="12.4" text-anchor="end" fill="#000" textLength="12.90" lengthAdjust="spacingAndGlyphs">80</text>
<path d="M51.8,290.02H58.6" stroke="#000" stroke-width="1.7"/>
<polygon points="32.75,285.87 32.75,294.07 31.45,294.07 31.45,288.07 29.20,289.37 29.20,287.67 31.55,285.87" fill="#000"/>
<text x="48.4" y="294.27" font-size="12.4" text-anchor="end" fill="#000" textLength="12.9" lengthAdjust="spacingAndGlyphs">00</text>
<path d="M51.8,272.46H58.6" stroke="#000" stroke-width="1.7"/>
<polygon points="32.75,268.31 32.75,276.51 31.45,276.51 31.45,270.51 29.20,271.81 29.20,270.11 31.55,268.31" fill="#000"/>
<text x="48.4" y="276.71" font-size="12.4" text-anchor="end" fill="#000" textLength="12.9" lengthAdjust="spacingAndGlyphs">20</text>
<path d="M51.8,254.91H58.6" stroke="#000" stroke-width="1.7"/>
<polygon points="32.75,250.76 32.75,258.96 31.45,258.96 31.45,252.96 29.20,254.26 29.20,252.56 31.55,250.76" fill="#000"/>
<text x="48.4" y="259.16" font-size="12.4" text-anchor="end" fill="#000" textLength="12.9" lengthAdjust="spacingAndGlyphs">40</text>
<path d="M51.8,237.35H58.6" stroke="#000" stroke-width="1.7"/>
<polygon points="32.75,233.20 32.75,241.40 31.45,241.40 31.45,235.40 29.20,236.70 29.20,235.00 31.55,233.20" fill="#000"/>
<text x="48.4" y="241.60" font-size="12.4" text-anchor="end" fill="#000" textLength="12.9" lengthAdjust="spacingAndGlyphs">60</text>
<path d="M51.8,219.80H58.6" stroke="#000" stroke-width="1.7"/>
<polygon points="32.75,215.65 32.75,223.85 31.45,223.85 31.45,217.85 29.20,219.15 29.20,217.45 31.55,215.65" fill="#000"/>
<text x="48.4" y="224.05" font-size="12.4" text-anchor="end" fill="#000" textLength="12.9" lengthAdjust="spacingAndGlyphs">80</text>
<path d="M108.88,386.7V393.4" stroke="#000" stroke-width="1.7"/>
<path d="M159.16,386.7V393.4" stroke="#000" stroke-width="1.7"/>
<path d="M209.44,386.7V393.4" stroke="#000" stroke-width="1.7"/>
<path d="M259.72,386.7V393.4" stroke="#000" stroke-width="1.7"/>
<path d="M310.00,386.7V393.4" stroke="#000" stroke-width="1.7"/>
<text x="58.60" y="408.2" font-size="12.4" text-anchor="middle" fill="#000" textLength="21.6" lengthAdjust="spacingAndGlyphs">-5.0</text>
<text x="108.88" y="408.2" font-size="12.4" text-anchor="middle" fill="#000" textLength="21.6" lengthAdjust="spacingAndGlyphs">-4.5</text>
<text x="159.16" y="408.2" font-size="12.4" text-anchor="middle" fill="#000" textLength="21.6" lengthAdjust="spacingAndGlyphs">-4.0</text>
<text x="209.44" y="408.2" font-size="12.4" text-anchor="middle" fill="#000" textLength="21.6" lengthAdjust="spacingAndGlyphs">-3.5</text>
<text x="259.72" y="408.2" font-size="12.4" text-anchor="middle" fill="#000" textLength="21.6" lengthAdjust="spacingAndGlyphs">-3.0</text>
<text x="310.00" y="408.2" font-size="12.4" text-anchor="middle" fill="#000" textLength="21.6" lengthAdjust="spacingAndGlyphs">-2.5</text>
<text x="184.2" y="429.6" font-size="14.0" text-anchor="middle" fill="#000" textLength="137.3" lengthAdjust="spacingAndGlyphs">log[Prostaglandins (M)]</text>
<text transform="translate(19.2,303.2) rotate(-90)" x="0" y="0" font-size="13.8" text-anchor="middle" fill="#000" textLength="64.4" lengthAdjust="spacingAndGlyphs">% inhibtion</text>
<path d="M69,225.9H88.2" stroke="#000000" stroke-width="1.8"/>
<rect x="75.30" y="222.60" width="6.6" height="6.6" fill="#000000"/>
<text x="97.4" y="230.50" font-size="12.4" fill="#000" textLength="30.6" lengthAdjust="spacingAndGlyphs">PGD2</text>
<path d="M69,246.2H88.2" stroke="#cc77a8" stroke-width="1.8"/>
<polygon points="78.60,249.80 82.20,243.60 75.00,243.60" fill="#cc77a8"/>
<text x="97.4" y="250.80" font-size="12.4" fill="#000" textLength="29.700000000000003" lengthAdjust="spacingAndGlyphs">PGE2</text>
<path d="M69,267.4H88.2" stroke="#168ff5" stroke-width="1.8"/>
<circle cx="78.60" cy="267.40" r="3.6" fill="#168ff5"/>
<text x="97.4" y="272.00" font-size="12.4" fill="#000" textLength="91.69999999999999" lengthAdjust="spacingAndGlyphs">PGD2-methylester</text>
<path d="M69,288.6H88.2" stroke="#6446aa" stroke-width="1.8"/>
<polygon points="78.60,284.70 82.00,288.60 78.60,292.50 75.20,288.60" fill="#6446aa"/>
<text x="97.4" y="293.20" font-size="12.4" fill="#000" textLength="30.1" lengthAdjust="spacingAndGlyphs">PGK2</text>
<path d="M69,309.7H88.2" stroke="#0a8a0a" stroke-width="1.8"/>
<polygon points="78.60,306.10 82.20,312.30 75.00,312.30" fill="#0a8a0a"/>
<text x="97.4" y="314.30" font-size="12.4" fill="#000" textLength="35.6" lengthAdjust="spacingAndGlyphs">PGF2a</text>
<text x="8.8" y="210" font-size="13.7" font-weight="bold" fill="#000">b.</text>
<text x="341.2" y="210" font-size="13.7" font-weight="bold" fill="#000">c.</text>
<rect x="359.8" y="216.4" width="314.8" height="48.1" fill="#ededed"/>
<path d="M359.8,216.4H674.6" stroke="#000" stroke-width="1.7"/>
<path d="M359.8,264.5H674.6" stroke="#000" stroke-width="2"/>
<text x="420.8" y="246.7" font-size="14.2" font-weight="bold" fill="#000" text-anchor="middle" textLength="101.2" lengthAdjust="spacingAndGlyphs">Prostaglandins</text>
<text x="528.5" y="238.0" font-size="14.2" font-weight="bold" fill="#000" text-anchor="middle" textLength="32.0" lengthAdjust="spacingAndGlyphs">Core</text>
<text x="528.6" y="254.7" font-size="14.2" font-weight="bold" fill="#000" text-anchor="middle" textLength="54.0" lengthAdjust="spacingAndGlyphs">scaffold</text>
<text x="597.0" y="247.3" font-size="14.4" font-weight="bold" fill="#000" textLength="56.6" lengthAdjust="spacingAndGlyphs">IC<tspan font-size="10" dy="1.6">50</tspan><tspan dy="-1.6"> [μM]</tspan></text>
<text x="420.8" y="285.3" font-size="14.8" font-weight="normal" fill="#000" text-anchor="middle" textLength="37.6" lengthAdjust="spacingAndGlyphs">PGD2</text>
<text x="528.4" y="285.3" font-size="14.8" fill="#000" text-anchor="middle">-</text>
<text x="625.4" y="285.3" font-size="14.8" font-weight="normal" fill="#000" text-anchor="middle" textLength="23.8" lengthAdjust="spacingAndGlyphs">205</text>
<text x="420.8" y="314.6" font-size="14.8" font-weight="normal" fill="#000" text-anchor="middle" textLength="36.9" lengthAdjust="spacingAndGlyphs">PGE2</text>
<text x="528.4" y="314.6" font-size="14.8" fill="#000" text-anchor="middle">-</text>
<text x="626.6" y="314.6" font-size="14.8" font-weight="normal" fill="#000" text-anchor="middle" textLength="39.2" lengthAdjust="spacingAndGlyphs">&gt;2000</text>
<text x="420.8" y="344.0" font-size="14.8" font-weight="normal" fill="#000" text-anchor="middle" textLength="61.0" lengthAdjust="spacingAndGlyphs">PGD2-me</text>
<polygon points="529.80,334.40 529.80,343.70 528.45,343.70 528.45,336.70 526.15,338.20 526.15,336.30 528.55,334.40" fill="#000"/>
<text x="625.4" y="344.0" font-size="14.8" font-weight="normal" fill="#000" text-anchor="middle" textLength="23.8" lengthAdjust="spacingAndGlyphs">155</text>
<text x="420.8" y="373.3" font-size="14.8" font-weight="normal" fill="#000" text-anchor="middle" textLength="36.9" lengthAdjust="spacingAndGlyphs">PGK2</text>
<text x="528.4" y="373.3" font-size="14.8" fill="#000" text-anchor="middle">2</text>
<text x="625.4" y="373.3" font-size="14.8" font-weight="normal" fill="#000" text-anchor="middle" textLength="23.8" lengthAdjust="spacingAndGlyphs">500</text>
<text x="420.8" y="402.4" font-size="14.8" font-weight="normal" fill="#000" text-anchor="middle" textLength="43.2" lengthAdjust="spacingAndGlyphs">PGF2<tspan fill="#1e4275">α</tspan></text>
<text x="528.4" y="402.4" font-size="14.8" fill="#000" text-anchor="middle">3</text>
<text x="626.6" y="402.4" font-size="14.8" font-weight="normal" fill="#000" text-anchor="middle" textLength="39.2" lengthAdjust="spacingAndGlyphs">&gt;2000</text>
</svg>
</body></html>
